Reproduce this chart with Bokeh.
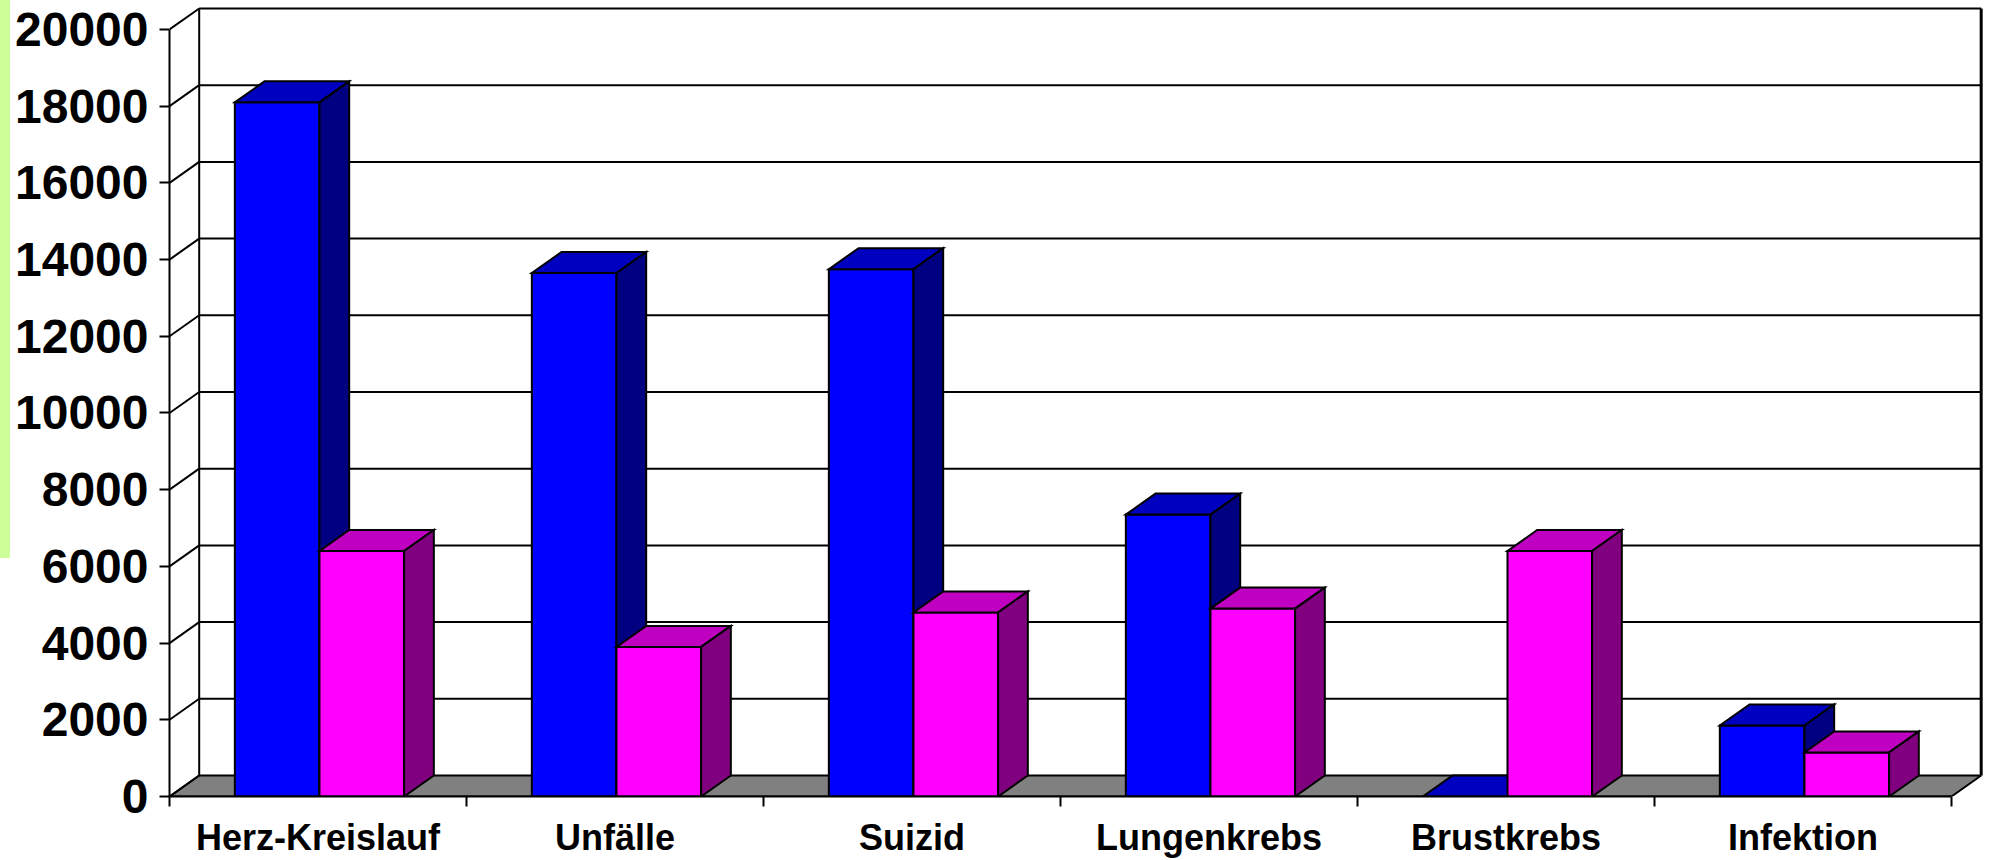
from bokeh.plotting import figure
from bokeh.models import Range1d, FixedTicker, Div, LinearAxis
from bokeh.layouts import row
from bokeh.embed import file_html
from bokeh.resources import INLINE

# ---- data ----
categories = ["Herz-Kreislauf", "Unfälle", "Suizid", "Lungenkrebs", "Brustkrebs", "Infektion"]
maenner = [18100, 13650, 13750, 7350, 0, 1850]
frauen = [6400, 3900, 4800, 4900, 6400, 1150]
y_ticks = [0, 2000, 4000, 6000, 8000, 10000, 12000, 14000, 16000, 18000, 20000]

# ---- styling / pseudo-3D geometry ----
Y_MAX = 20000
DX = 0.1        # depth offset in category units
DY = 548        # depth offset in value units
BAR_W = 0.285
CENTER = 0.505
N = len(categories)

blue_cols = ("#0000FF", "#0000C0", "#000080")     # front, top, side
mag_cols = ("#FF00FF", "#C000C0", "#800080")

p = figure(width=1979, height=860,
           x_range=Range1d(0, 6.128), y_range=Range1d(0, 20756),
           output_backend="svg", toolbar_location=None,
           x_axis_type=None, y_axis_type=None,
           min_border_left=159, min_border_right=0,
           min_border_top=0, min_border_bottom=64)
p.outline_line_color = None
p.background_fill_color = "white"
p.border_fill_color = "white"

# floor
p.patch([0, N, N + DX, DX], [0, 0, DY, DY], fill_color="#808080",
        line_color="black", line_width=2)

# walls: left diagonal gridlines, back horizontal gridlines, edges
xs, ys = [], []
for v in y_ticks:
    xs.append([0, DX]); ys.append([v, v + DY])
for v in y_ticks[1:]:
    xs.append([DX, N + DX]); ys.append([v + DY, v + DY])
xs.append([DX, DX]); ys.append([DY, Y_MAX + DY])
p.multi_line(xs, ys, line_color="black", line_width=2)
p.line([N + DX, N + DX], [DY, Y_MAX + DY], line_color="black", line_width=3)

# bars
pxs, pys, pcols = [], [], []
for i in range(N):
    for val, cols, x0 in ((maenner[i], blue_cols, i + CENTER - BAR_W),
                          (frauen[i], mag_cols, i + CENTER)):
        x1 = x0 + BAR_W
        pxs.append([x0, x1, x1, x0]); pys.append([0, 0, val, val]); pcols.append(cols[0])
        pxs.append([x0, x1, x1 + DX, x0 + DX]); pys.append([val, val, val + DY, val + DY]); pcols.append(cols[1])
        pxs.append([x1, x1 + DX, x1 + DX, x1]); pys.append([0, DY, val + DY, val]); pcols.append(cols[2])
p.patches(pxs, pys, fill_color=pcols, line_color="black", line_width=2, line_join="miter")

# axes
yaxis = LinearAxis(ticker=FixedTicker(ticks=y_ticks), bounds=(0, Y_MAX))
yaxis.axis_line_width = 2
yaxis.major_tick_line_width = 2
yaxis.major_tick_out = 10
yaxis.major_tick_in = 0
yaxis.minor_tick_out = 0
yaxis.minor_tick_in = 0
yaxis.major_label_standoff = 11
yaxis.major_label_text_font = "Liberation Sans"
yaxis.major_label_text_font_style = "bold"
yaxis.major_label_text_font_size = "48px"
yaxis.major_label_text_color = "black"
p.add_layout(yaxis, "left")

xaxis = LinearAxis(ticker=FixedTicker(ticks=[i + 0.5 for i in range(N)],
                                      minor_ticks=list(range(N + 1))),
                   bounds=(0, N))
xaxis.major_label_overrides = {i + 0.5: c for i, c in enumerate(categories)}
xaxis.axis_line_width = 2
xaxis.major_tick_out = 0
xaxis.major_tick_in = 0
xaxis.minor_tick_out = 10
xaxis.minor_tick_in = 0
xaxis.minor_tick_line_width = 2
xaxis.major_label_standoff = 10
xaxis.major_label_text_font = "Liberation Sans"
xaxis.major_label_text_font_style = "bold"
xaxis.major_label_text_font_size = "36px"
xaxis.major_label_text_color = "black"
p.add_layout(xaxis, "below")

strip = Div(text="", width=10, height=558, margin=0,
            styles={"background-color": "#CCFF99"})

layout = row(strip, p, spacing=0, margin=0)

with open("out.html", "w") as f:
    f.write(file_html(layout, INLINE))
